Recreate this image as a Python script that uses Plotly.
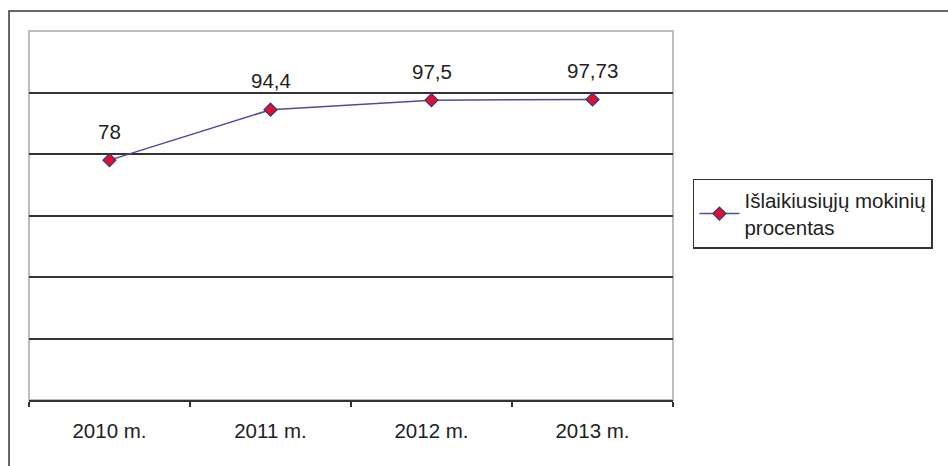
"""
Line chart: share of students who passed, by year.
"""

import plotly.graph_objects as go

years = ["2010 m.", "2011 m.", "2012 m.", "2013 m."]
passed_pct = [78, 94.4, 97.5, 97.73]
labels = [str(v).replace(".", ",") for v in passed_pct]
series_name = "Išlaikiusiųjų mokinių<br>procentas"

FONT = "Liberation Sans, Arial, sans-serif"

fig = go.Figure()
fig.add_trace(
    go.Scatter(
        x=years,
        y=passed_pct,
        mode="lines+markers",
        name=series_name,
        line=dict(color="#4B4BA6", width=1.5),
        marker=dict(
            symbol="diamond",
            size=10,
            color="#E0102A",
            line=dict(color="#33338F", width=1.2),
        ),
    )
)

# value labels above each point
for x, y, t in zip(years, passed_pct, labels):
    fig.add_annotation(
        x=x, y=y, text=t, showarrow=False, yshift=29,
        font=dict(family=FONT, size=20.5, color="#222"),
    )

# outer chart border (cropped on right and bottom)
fig.add_shape(
    type="rect", xref="paper", yref="paper",
    x0=-0.031, x1=1.5, y0=-0.25, y1=1.054,
    line=dict(color="#333", width=1.5), layer="below",
)

fig.update_layout(
    width=948,
    height=466,
    margin=dict(l=29, r=275, t=31, b=66),
    paper_bgcolor="white",
    plot_bgcolor="white",
    font=dict(family=FONT, size=20, color="#222"),
    showlegend=True,
    legend=dict(
        x=1.031, y=0.599, xanchor="left", yanchor="top",
        bordercolor="#333", borderwidth=1.5,
        font=dict(family=FONT, size=20.5, color="#222"),
        itemwidth=40,
        tracegroupgap=0,
    ),
    xaxis=dict(
        type="category",
        range=[-0.5, 3.5],
        showgrid=False,
        tickson="boundaries",
        ticks="outside",
        ticklen=5,
        tickcolor="#333",
        tickwidth=1.5,
        showline=True,
        linecolor="#333",
        linewidth=1.5,
        mirror=False,
        ticklabelstandoff=12,
        tickfont=dict(family=FONT, size=20.5, color="#222"),
    ),
    yaxis=dict(
        range=[0, 120],
        dtick=20,
        showticklabels=False,
        showgrid=True,
        gridcolor="#333",
        gridwidth=1.5,
        zeroline=False,
        showline=False,
    ),
)

# light grey plot-area frame on left, top, right
fig.add_shape(
    type="rect", xref="paper", yref="paper",
    x0=0, x1=1, y0=0, y1=1,
    line=dict(color="#BDBDBD", width=2), layer="below",
)

fig.write_html(
    "out.html",
    config={"displayModeBar": False},
    post_script="document.body.style.margin='0';",
)
